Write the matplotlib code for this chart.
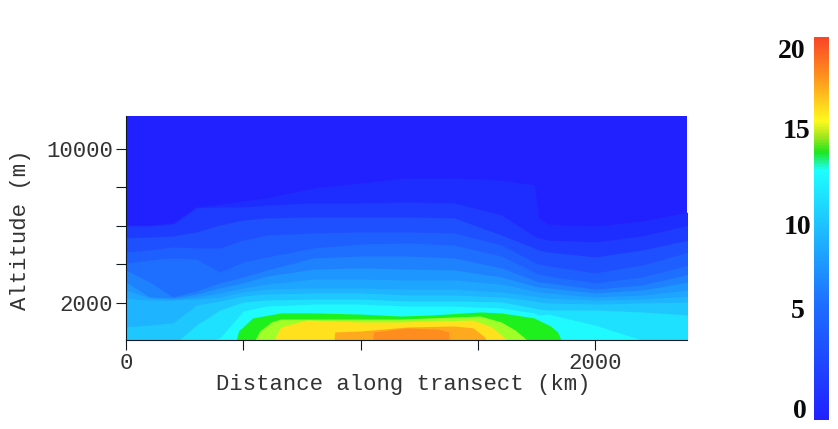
import numpy as np
import matplotlib
matplotlib.use("Agg")
import matplotlib.pyplot as plt
from matplotlib.colors import LinearSegmentedColormap

# Distance nodes (km) shared by most contour levels
x_km = [0,100,200,300,400,500,600,800,1000,1200,1400,1600,1740,1760,1800,2000,2200,2400]

# Altitude (m) of each contour level along the transect
L1  = [6030,6030,6140,6970,7120,7280,7440,7960,8220,8480,8480,8370,8110,6400,6080,5980,6240,6710]
L2  = [5980,5980,6080,6920,6970,6970,7070,7180,7180,7230,7180,6550,5460,5360,5250,5150,5460,6030]
L3  = [5360,5410,5460,5670,6030,6290,6400,6450,6450,6450,6400,5510,4840,4730,4630,4370,4730,5250]
L4  = [4630,4730,4890,4840,4840,5250,5510,5620,5670,5670,5620,4990,4110,4000,3900,3540,3950,4630]
L5  = [4060,4210,4320,4260,3590,4110,4370,4840,5040,5100,4990,4420,3590,3480,3380,3020,3330,3950]
L6  = [3690,3070,2290,2600,3020,3330,3690,4320,4420,4420,4320,3800,3170,3070,3020,2700,2910,3480]
L7  = [3070,2290,2240,2440,2760,3020,3380,3740,3800,3740,3690,3330,2860,2810,2760,2500,2650,3070]
L8  = [2650,2240,2180,2290,2500,2760,2960,3220,3220,3170,3170,2960,2600,2550,2500,2290,2390,2650]
L9  = [2240,2130,2130,2180,2290,2550,2700,2760,2760,2700,2700,2550,2340,2290,2240,2130,2180,2340]
L10 = [730,830,940,1870,2080,2340,2440,2500,2500,2390,2390,2290,2080,2030,1980,1920,1980,2030]
L11 = [-210,-210,-210,830,1610,2030,2130,2180,2180,2080,2080,2030,1720,1660,1610,1610,1510,1350]
L12 = [-210,-210,-210,-210,160,1560,1820,1920,1920,1820,1820,1720,1460,1350,1400,830,50,-210]

# Levels of the warm dome near the ground, each with its own distance nodes
x_L13 = [460,470,480,540,660,800,1000,1170,1300,1510,1600,1740,1810,1840,1855,1865]
L13 = [-210,50,520,1200,1460,1460,1400,1300,1350,1510,1460,1200,780,470,50,-210]
x_L14 = [540,550,570,620,660,800,1170,1510,1600,1660,1710,1720]
L14 = [-210,50,520,990,1140,1140,1140,1300,990,570,50,-210]
x_L15 = [620,630,660,770,1000,1170,1480,1560,1625,1635]
L15 = [-210,50,730,1090,990,990,1090,730,50,-210]
x_L16 = [885,890,1000,1200,1400,1480,1530,1540]
L16 = [-210,470,520,730,780,680,200,-210]
x_L17 = [1050,1055,1200,1330,1375,1380]
L17 = [-210,470,680,620,470,-210]

band_colors = ["#2121ff","#1e2dff","#1e3cff","#1e50ff","#1e5fff","#1e6eff","#1e82ff","#1e96ff",
               "#1ea5ff","#1eb4ff","#1ec8ff","#1ee1ff","#1efaff","#1ef01e","#a0ff28","#ffe11e",
               "#ffaa1e","#ff8c1e"]

bar_pos = [0,0.30,0.50,0.653,0.70,0.74,0.783,0.906,1]
bar_colors = ["#2121ff","#1e6eff","#1ebeff","#1effff","#1ee61e","#a0e61e","#fffa1e","#ff8c1e","#fa4628"]
bar_labels = ["20","15","10","5","0"]

plt.rcParams["font.family"] = ["Liberation Mono", "DejaVu Sans"]
W, H = 838, 429
fig = plt.figure(figsize=(W/100, H/100), dpi=100, facecolor="white")
ax = fig.add_axes([126/W, 1-340/H, (687-126)/W, (340-116)/H])
ax.set_xlim(0, 2392)
ax.set_ylim(52, 11700)
ax.set_facecolor(band_colors[0])

x = np.array(x_km)
levels = [(x,L1),(x,L2),(x,L3),(x,L4),(x,L5),(x,L6),(x,L7),(x,L8),(x,L9),(x,L10),
          (x,L11),(x,L12),(x_L13,L13),(x_L14,L14),(x_L15,L15),(x_L16,L16),(x_L17,L17)]
for (xs, zs), c in zip(levels, band_colors[1:]):
    ax.fill_between(xs, -3000, zs, color=c, lw=0)

for s in ("top","right"):
    ax.spines[s].set_visible(False)
for s in ("left","bottom"):
    ax.spines[s].set_linewidth(0.8)
    ax.spines[s].set_color("#101820")
ax.set_xticks([0,500,1000,1500,2000])
ax.set_xticklabels(["0","","","","2000"])
ax.set_yticks([2000,4000,6000,8000,10000])
ax.set_yticklabels(["2000","","","","10000"])
ax.tick_params(axis="both", length=7.2, width=0.8, color="#101820", labelsize=16, labelcolor="#333333")
ax.tick_params(axis="x", pad=2)
ax.tick_params(axis="y", pad=2)
ax.set_xlabel("Distance along transect (km)", fontsize=16, color="#333333")
ax.xaxis.set_label_coords(0.495, -0.2)
ax.xaxis.label.set_verticalalignment("center")
ax.set_ylabel("Altitude (m)", fontsize=16, color="#333333")
ax.yaxis.set_label_coords((20-126)/(687-126), 0.49)
ax.yaxis.label.set_verticalalignment("center")

cmap = LinearSegmentedColormap.from_list("bar", list(zip(bar_pos, bar_colors)))
cax = fig.add_axes([814/W, 1-420/H, 15/W, 383/H])
cax.imshow(np.linspace(1,0,383).reshape(-1,1), aspect="auto", cmap=cmap, vmin=0, vmax=1)
cax.axis("off")

for lab, rx, cy in zip(bar_labels, [805,810,811,805,807], [51,131,228,311,411]):
    fig.text(rx/W, 1-cy/H, lab, ha="right", va="center", family="Liberation Serif",
             weight="bold", fontsize=20, color="#0a0a0a")

fig.savefig("out.png", dpi=100, facecolor="white")
